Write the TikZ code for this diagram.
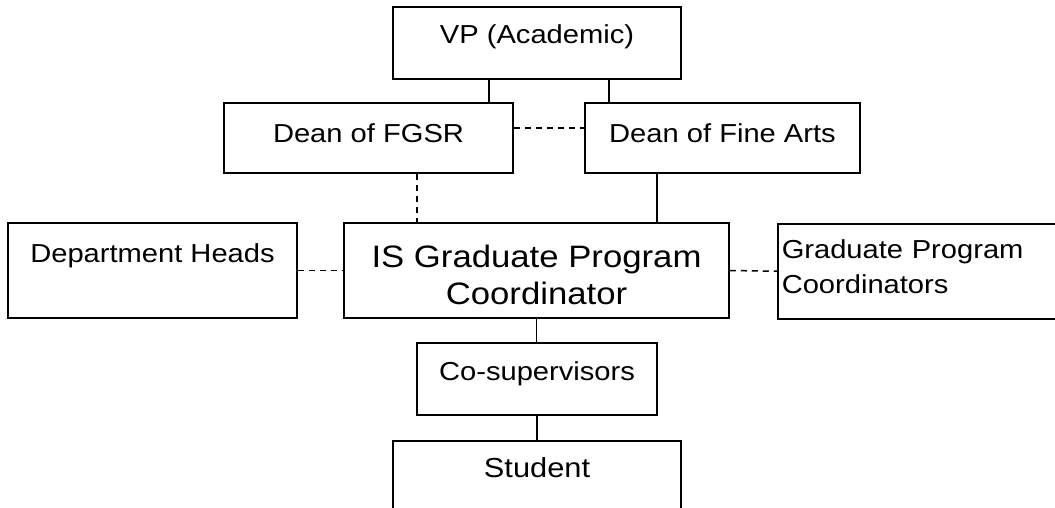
\documentclass[tikz,border=0pt]{standalone}
\usepackage{fontspec}
\setmainfont{Liberation Sans}[FakeStretch=1.12]

\tikzstyle{box} = [draw, line width=1.5pt, inner sep=0pt, font=\fontsize{26}{35}\selectfont]
\tikzstyle{conn} = [draw, line width=1.5pt]
\tikzstyle{dashconn} = [conn, dash pattern=on 6pt off 5pt]

\begin{document}
\begin{tikzpicture}[x=1pt,y=-1pt]
		\useasboundingbox (0,0) rectangle (1055,507);
		\clip (0,0) rectangle (1055,507);
		
		%top
		\node[box, minimum width=288pt, text height=36pt, text depth=36pt](vp) at (537,43) {VP (Academic)};
		\node[box, minimum width=289pt, text height=39pt, text depth=31pt](fgsr) at (368.5,138) {Dean of FGSR};
		\node[box, minimum width=275pt, text height=39pt, text depth=31pt](arts) at (722.5,138) {Dean of Fine Arts};
		%middle row
		\node[box, minimum width=289pt, text height=39pt, text depth=56pt](dept) at (152.5,270.5) {Department Heads};
		\node[box, minimum width=385pt, text height=81pt, text depth=14pt, align=center, font=\fontsize{31}{37}\selectfont](isgpc) at (536.5,270.5) {IS Graduate Program\\Coordinator};
		\node[box, anchor=north west, inner xsep=4pt, text width=280pt, align=left, text height=35pt, text depth=60pt](grad) at (777,223) {Graduate Program\\Coordinators};
		%bottom
		\node[box, minimum width=240pt, text height=37pt, text depth=35pt](cosup) at (537,379) {Co-supervisors};
		\node[box, anchor=north, minimum width=288pt, text height=37pt, text depth=43pt, font=\fontsize{27.5}{33}\selectfont](student) at (537,440) {Student};
		
		%lines
		\coordinate (vp-l) at ([xshift=-48pt]vp.south);
		\coordinate (vp-r) at ([xshift=72pt]vp.south);
		\coordinate (fgsr-e) at ([yshift=10pt]fgsr.east);
		\coordinate (fgsr-s) at ([xshift=48.5pt]fgsr.south);
		\coordinate (arts-s) at ([xshift=-65.5pt]arts.south);
		\draw[conn] (vp-l) -- (vp-l |- fgsr.north);
		\draw[conn] (vp-r) -- (vp-r |- arts.north);
		\draw[dashconn] (fgsr-e) -- (fgsr-e -| arts.west);
		\draw[dashconn] (fgsr-s) -- (fgsr-s |- isgpc.north);
		\draw[conn] (arts-s) -- (arts-s |- isgpc.north);
		\draw[dashconn] (dept.east) -- (isgpc.west);
		\draw[dashconn] (isgpc.east) -- (grad.west);
		\draw[conn] (isgpc.south) -- (isgpc.south |- cosup.north);
		\draw[conn] (cosup.south) -- (cosup.south |- student.north);
\end{tikzpicture}
\end{document}
